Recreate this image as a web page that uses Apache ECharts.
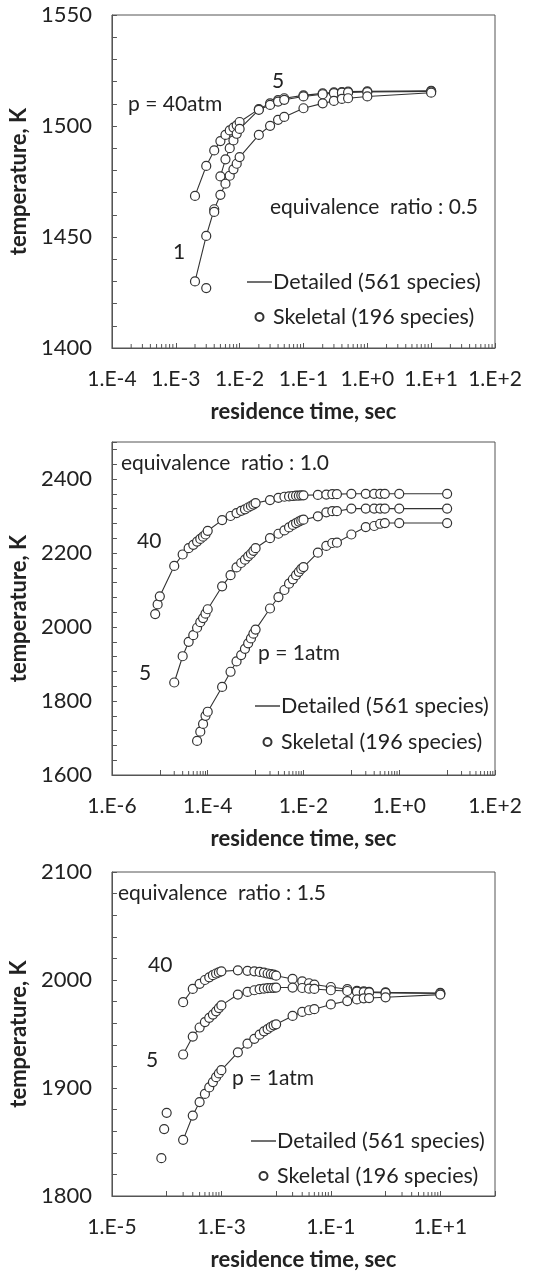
<!DOCTYPE html>
<html>
<head>
<meta charset="utf-8">
<script src="https://cdn.jsdelivr.net/npm/echarts@6/dist/echarts.min.js"></script>
<style>
  html, body { margin: 0; padding: 0; background: #fff; }
  #chart { width: 544px; height: 1272px; }
</style>
</head>
<body>
<div id="chart"></div>
<script>
// ---- equivalence ratio 0.5 ----
const timePhi05 = [2e-3, 3e-3, 4e-3, 5e-3, 6e-3, 7e-3, 8e-3, 9e-3, 1e-2, 2e-2, 3e-2, 4e-2, 5e-2, 1e-1, 2e-1, 3e-1, 4e-1, 5e-1, 1, 10];
const tempPhi05_40 = [1468.5, 1482, 1489, 1493.2, 1496, 1498, 1499.3, 1500.3, 1501.8, 1507.6, 1510.2, 1511.7, 1512.5, 1513.8, 1514.7, 1515.2, 1515.3, 1515.5, 1515.6, 1515.8];
const tempPhi05_5 = [null, null, null, 1477.3, 1485, 1490, 1493.5, 1496.5, 1498.7, 1507.3, 1509.5, 1511, 1511.8, 1513.3, 1514.3, 1514.8, 1515, 1515.1, 1515.3, 1515.6];
const tempPhi05_1 = [1430, 1450.5, 1462.5, 1469, 1474, 1477.6, 1480.5, 1483, 1486, 1496, 1500.1, 1502.8, 1504.1, 1508, 1510.2, 1511.3, 1512.2, 1512.5, 1513.3, 1515];
const skelOnlyPhi05 = [[3e-3, 1427], [4e-3, 1461.3]];

// ---- equivalence ratio 1.0 ----
const timePhi10 = [8e-6, 9e-6, 1e-5, 2e-5, 3e-5, 4e-5, 5e-5, 6e-5, 7e-5, 8e-5, 9e-5,
  1e-4, 2e-4, 3e-4, 4e-4, 5e-4, 6e-4, 7e-4, 8e-4, 9e-4,
  1e-3, 2e-3, 3e-3, 4e-3, 5e-3, 6e-3, 7e-3, 8e-3, 9e-3,
  1e-2, 2e-2, 3e-2, 4e-2, 5e-2, 1e-1, 2e-1, 3e-1, 4e-1, 5e-1, 1, 10];
const tempPhi10_40 = [2035, 2061, 2083, 2165, 2196, 2213, 2222, 2231, 2238, 2244, 2250,
  2260, 2289, 2300, 2308, 2314, 2318, 2323, 2327, 2331,
  2335, 2343, 2349, 2352, 2353, 2354, 2355, 2355, 2356,
  2356, 2357, 2358, 2359, 2359, 2360, 2360, 2360, 2360, 2360, 2360, 2360];
const tempPhi10_5 = [null, null, null, 1850, 1921, 1960, 1978, 1998, 2013, 2024, 2036,
  2048, 2110, 2140, 2161, 2173, 2182, 2191, 2198, 2206,
  2213, 2240, 2252, 2261, 2269, 2276, 2281, 2285, 2288,
  2290, 2299, 2310, 2313, 2313, 2320, 2320, 2320, 2320, 2320, 2320, 2320];
const tempPhi10_1 = [null, null, null, null, null, null, null, 1692, 1717, 1738, 1760,
  1771, 1838, 1879, 1907, 1924, 1941, 1956, 1969, 1982,
  1993, 2050, 2081, 2100, 2117, 2129, 2140, 2149, 2157,
  2162, 2201, 2219, 2227, 2228, 2250, 2270, 2273, 2279, 2281, 2281, 2281];

// ---- equivalence ratio 1.5 ----
const timePhi15 = [2e-4, 3e-4, 4e-4, 5e-4, 6e-4, 7e-4, 8e-4, 9e-4,
  1e-3, 2e-3, 3e-3, 4e-3, 5e-3, 6e-3, 7e-3, 8e-3, 9e-3,
  1e-2, 2e-2, 3e-2, 4e-2, 5e-2, 1e-1, 2e-1, 3e-1, 4e-1, 5e-1, 1, 10];
const tempPhi15_40 = [1979.5, 1991.7, 1996.5, 2000, 2002.5, 2004.5, 2006, 2007,
  2008, 2009, 2008.5, 2008, 2007.5, 2006.8, 2006, 2005.5, 2005,
  2004, 2001, 1998.8, 1997, 1995.8, 1993.5, 1991.5, 1990, 1989.5, 1989, 1988.5, 1988];
const tempPhi15_5 = [1931, 1947.6, 1956, 1961, 1965, 1968, 1971, 1974,
  1976.5, 1986.5, 1989, 1990.5, 1991.5, 1992, 1992.5, 1992.6, 1992.8,
  1993, 1993, 1992.6, 1992, 1991.7, 1990.5, 1989.8, 1989.2, 1988.8, 1988.5, 1988, 1987.5];
const tempPhi15_1 = [1852, 1874.5, 1887, 1894.5, 1900.5, 1905.5, 1910, 1913.5,
  1916.5, 1933, 1941, 1945.5, 1949.4, 1952.5, 1954.6, 1956.5, 1958,
  1959, 1966.7, 1970.4, 1972, 1973, 1977.4, 1980.5, 1982, 1983, 1983.3, 1984, 1986.5];
const skelOnlyPhi15 = [[8e-5, 1835], [9e-5, 1862], [1e-4, 1877]];

const FONT = 'Lato, "Noto Sans", sans-serif';
const INK = '#222';
const FRAME = '#555';
const DETAILED = 'Detailed (561 species)';
const SKELETAL = 'Skeletal (196 species)';

const panels = [
  { top: 15, height: 333, xMin: 1e-4, xMax: 1e2, labelFrom: -4, labelEvery: 1, minorDecades: [-4, -3, -2, -1, 0, 1],
    yMin: 1400, yMax: 1550, yStep: 10, yLabelStep: 50,
    time: timePhi05, curves: [tempPhi05_40, tempPhi05_5, tempPhi05_1], extra: skelOnlyPhi05,
    legend: { left: 247, top: 271, gap: 13 } },
  { top: 442, height: 333, xMin: 1e-6, xMax: 1e2, labelFrom: -6, labelEvery: 2, minorDecades: [-5, -3, -1, 1],
    yMin: 1600, yMax: 2500, yStep: 40, yLabelStep: 200,
    time: timePhi10, curves: [tempPhi10_40, tempPhi10_5, tempPhi10_1], extra: [],
    legend: { left: 255, top: 695, gap: 14 } },
  { top: 872, height: 328, xMin: 1e-5, xMax: 1e2, labelFrom: -5, labelEvery: 2, minorDecades: [-4, -2, 0],
    yMin: 1800, yMax: 2100, yStep: 20, yLabelStep: 100,
    time: timePhi15, curves: [tempPhi15_40, tempPhi15_5, tempPhi15_1], extra: skelOnlyPhi15,
    legend: { left: 251, top: 1130, gap: 13 } }
];

const notes = [
  ['p = 40atm', 128, 104], ['5', 272, 81], ['1', 173, 252], ['equivalence  ratio : 0.5', 270, 207],
  ['equivalence  ratio : 1.0', 121, 463], ['40', 137, 541], ['5', 139, 673], ['p = 1atm', 258, 653],
  ['equivalence  ratio : 1.5', 118, 893], ['40', 148, 965], ['5', 146, 1060], ['p = 1atm', 232, 1078]
];

function pairs(t, T) {
  return t.map((x, i) => [x, T[i]]).filter(p => p[1] != null);
}

function expLabel(v) {
  const e = Math.round(Math.log10(v));
  return '1.E' + (e < 0 ? '-' : '+') + Math.abs(e);
}

const grid = [], xAxis = [], yAxis = [], legend = [], series = [];

panels.forEach((p, i) => {
  grid.push({ left: 98, right: 49, top: p.top, height: p.height, show: true,
    borderColor: FRAME, borderWidth: 1, containLabel: false });

  xAxis.push({
    type: 'log', logBase: 10, gridIndex: i, min: p.xMin, max: p.xMax,
    axisLine: { lineStyle: { color: FRAME, width: 1 } },
    axisTick: { inside: true, length: 5, lineStyle: { color: FRAME } },
    splitLine: { show: false },
    axisLabel: {
      margin: 21, fontSize: 21, color: INK, fontFamily: FONT,
      formatter: v => {
        const e = Math.round(Math.log10(v));
        return (e - p.labelFrom) % p.labelEvery === 0 ? expLabel(v) : '';
      }
    },
    name: 'residence time, sec', nameLocation: 'middle', nameGap: 53,
    nameTextStyle: { fontSize: 22, fontWeight: 'bold', color: INK, fontFamily: FONT }
  });

  yAxis.push({
    type: 'value', gridIndex: i, min: p.yMin, max: p.yMax, interval: p.yStep,
    axisLine: { show: true, lineStyle: { color: FRAME, width: 1 } },
    axisTick: { inside: true, length: 5, lineStyle: { color: FRAME } },
    splitLine: { show: false },
    axisLabel: {
      margin: 20, fontSize: 22, color: INK, fontFamily: FONT,
      formatter: v => (Math.round(v) % p.yLabelStep === 0 ? String(Math.round(v)) : '')
    },
    name: 'temperature, K', nameLocation: 'middle', nameGap: 70,
    nameTextStyle: { fontSize: 22, fontWeight: 'bold', color: INK, fontFamily: FONT }
  });

  legend.push({
    data: [
      { name: DETAILED, icon: 'path://M0,0 H25 V1.3 H0 Z', itemStyle: { color: '#222', borderWidth: 0 } },
      { name: SKELETAL }
    ],
    orient: 'vertical', left: p.legend.left, top: p.legend.top,
    itemWidth: 25, itemHeight: 8, itemGap: p.legend.gap, padding: 0, selectedMode: false,
    textStyle: { fontSize: 21.5, color: INK, fontFamily: FONT, padding: [0, 0, 0, -4] }
  });

  // log minor ticks (2..9) inside the bottom axis
  const minor = [];
  p.minorDecades.forEach(n => {
    for (let k = 2; k <= 9; k++) minor.push([Number((k * Math.pow(10, n)).toPrecision(3)), p.yMin]);
  });
  series.push({
    type: 'custom', xAxisIndex: i, yAxisIndex: i, silent: true, data: minor, z: 1,
    renderItem: (params, api) => {
      const pt = api.coord([api.value(0), api.value(1)]);
      return { type: 'line', shape: { x1: pt[0], y1: pt[1], x2: pt[0], y2: pt[1] - 4 },
        style: { stroke: FRAME, lineWidth: 1 } };
    }
  });

  p.curves.forEach(T => {
    series.push({
      name: DETAILED, type: 'line', xAxisIndex: i, yAxisIndex: i, data: pairs(p.time, T),
      symbol: 'none', lineStyle: { color: '#333', width: 1.1 }, itemStyle: { color: '#333' }, z: 2
    });
  });
  const skel = [];
  p.curves.forEach(T => skel.push(...pairs(p.time, T)));
  skel.push(...p.extra);
  series.push({
    name: SKELETAL, type: 'scatter', xAxisIndex: i, yAxisIndex: i, data: skel,
    symbol: 'circle', symbolSize: 9,
    itemStyle: { color: '#fff', borderColor: '#333', borderWidth: 1.2, opacity: 1 }, z: 3
  });
});

const graphic = notes.map(([text, x, y]) => ({
  type: 'text', x: x, y: y, z: 10,
  style: { text: text, fontSize: 21, fontFamily: FONT, fill: INK, align: 'left', verticalAlign: 'middle' }
}));

const chart = echarts.init(document.getElementById('chart'), null, { renderer: 'canvas' });
chart.setOption({
  animation: false,
  backgroundColor: '#fff',
  grid, xAxis, yAxis, legend, series, graphic
});
</script>
</body>
</html>
